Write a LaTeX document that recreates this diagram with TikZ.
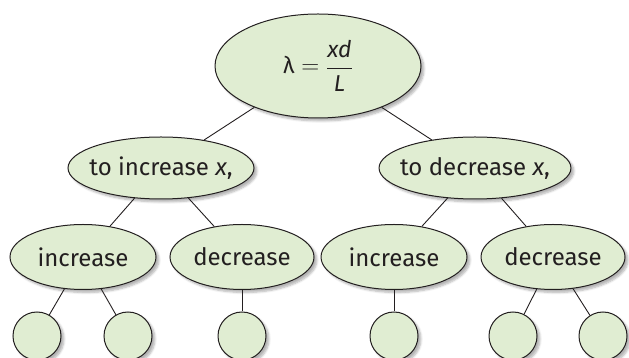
\documentclass[tikz,border=0pt]{standalone}
\usepackage{amsmath}
\usepackage{fontspec}
\setmainfont{Fira Sans}
\usepackage{tikz}
\usetikzlibrary{shapes.geometric,shadows.blur}

\definecolor{nodegreen}{HTML}{E0EDD2}
\definecolor{inkgray}{HTML}{231F20}

\tikzset{
  bubble/.style={ellipse, draw=inkgray, line width=1pt, fill=nodegreen,
    inner sep=0pt, text=inkgray,
    blur shadow={shadow xshift=3pt, shadow yshift=-3pt, shadow blur steps=6, shadow opacity=30}},
  question/.style={bubble, inner xsep=-7pt, minimum width=186pt, minimum height=62pt},
  leaf/.style={bubble, circle, minimum size=48pt},
  branch/.style={draw=inkgray, line width=0.9pt}
}

\begin{document}
\begin{tikzpicture}[x=1pt, y=1pt, font=\fontsize{24}{28}\selectfont]
\useasboundingbox (0,0) rectangle (629,358);

% Radice
\node[bubble, minimum width=206pt, minimum height=104pt, font=\fontsize{23}{27}\selectfont] (root) at (318,292)
  {λ${}={}$\raisebox{-0.5pt}{$\dfrac{\mbox{\itshape xd}}{\mbox{\itshape L}}$}};

% Secondo livello
\node[question] (incx) at (161,190) {to increase \textit{x},};
\node[question] (decx) at (475,190) {to decrease \textit{x},};

% Terzo livello
\node[bubble, minimum width=146pt, minimum height=65pt] (incA) at (83,101) {increase};
\node[bubble, minimum width=144pt, minimum height=65pt] (decA) at (242,101) {decrease};
\node[bubble, minimum width=146pt, minimum height=65pt] (incB) at (394,101) {increase};
\node[bubble, minimum width=144pt, minimum height=65pt] (decB) at (553,101) {decrease};

% Foglie
\node[leaf] (leafA) at (37,22) {};
\node[leaf] (leafB) at (128,22) {};
\node[leaf] (leafC) at (242,22) {};
\node[leaf] (leafD) at (394,22) {};
\node[leaf] (leafE) at (513,22) {};
\node[leaf] (leafF) at (603,22) {};

% Rami
\draw[branch] (root) -- (incx);
\draw[branch] (root) -- (decx);
\draw[branch] (incx) -- (incA);
\draw[branch] (incx) -- (decA);
\draw[branch] (decx) -- (incB);
\draw[branch] (decx) -- (decB);
\draw[branch] (incA) -- (leafA);
\draw[branch] (incA) -- (leafB);
\draw[branch] (decA) -- (leafC);
\draw[branch] (incB) -- (leafD);
\draw[branch] (decB) -- (leafE);
\draw[branch] (decB) -- (leafF);

\end{tikzpicture}
\end{document}
